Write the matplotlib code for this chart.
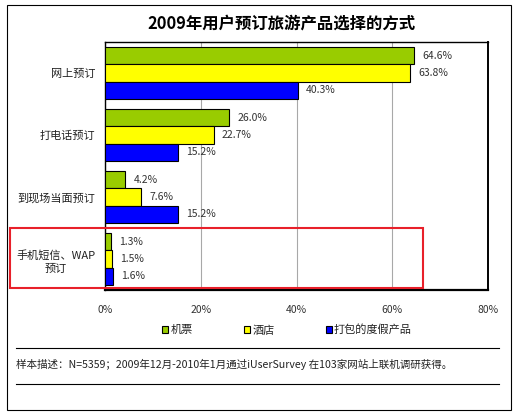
import matplotlib
matplotlib.use('Agg')
from matplotlib import pyplot as plt
from matplotlib.patches import Rectangle
from matplotlib.lines import Line2D
import numpy as np

plt.rcParams['font.family'] = ['Noto Sans CJK SC', 'DejaVu Sans']

categories = ['网上预订', '打电话预订', '到现场当面预订', '手机短信、WAP\n预订']
series_names = ['机票', '酒店', '打包的度假产品']
flights = [64.6, 26.0, 4.2, 1.3]
hotels = [63.8, 22.7, 7.6, 1.5]
packages = [40.3, 15.2, 15.2, 1.6]
xticks = [0, 20, 40, 60, 80]
xtick_labels = ['0%', '20%', '40%', '60%', '80%']
title = '2009年用户预订旅游产品选择的方式'
note = '样本描述：N=5359；2009年12月-2010年1月通过iUserSurvey 在103家网站上联机调研获得。'

colors = ['#99CC00', '#FFFF00', '#0000FF']

W, H = 517, 417
fig = plt.figure(figsize=(W / 100, H / 100), dpi=100)
ax = fig.add_axes([105 / W, 1 - 290 / H, 383 / W, 248 / H])

y = np.arange(len(categories))
h = 0.282
for i, vals in enumerate([flights, hotels, packages]):
	bars = ax.barh(y + (i - 1) * h, vals, height=h, color=colors[i],
				   edgecolor='black', linewidth=0.8, label=series_names[i], zorder=3)
	ax.bar_label(bars, labels=['%.1f%%' % v for v in vals], padding=6,
				 fontsize=7.5, color='#333333')

ax.set_ylim(3.5, -0.5)
ax.set_xlim(0, 80)
ax.set_xticks(xticks)
ax.set_xticklabels(xtick_labels, fontsize=7.5, color='#333333')
ax.set_yticks(y)
ax.set_yticklabels(categories, fontsize=8, color='#222222', ha='right',
				   multialignment='center', linespacing=1.5)
ax.tick_params(axis='y', length=0, pad=7)
ax.tick_params(axis='x', length=0, pad=11)
ax.grid(axis='x', color='#A8A8A8', linewidth=0.8, zorder=0)
for s in ax.spines.values():
	s.set_color('black')
	s.set_linewidth(1.0)
ax.spines['bottom'].set_linewidth(1.6)
ax.spines['right'].set_linewidth(1.4)

fig.text(281 / W, 1 - 24 / H, title, ha='center', va='center',
		 fontsize=11.8, fontweight='bold')

leg = fig.legend(loc='center', bbox_to_anchor=(287 / W, 1 - 330 / H), ncol=3,
				 frameon=False, fontsize=8, handlelength=0.55, handleheight=0.55,
				 handletextpad=0.2, columnspacing=4.6)
for t in leg.get_texts():
	t.set_color('#222222')

fig.add_artist(Line2D([16 / W, 499 / W], [1 - 348 / H, 1 - 348 / H],
					  color='black', linewidth=0.8))
fig.add_artist(Line2D([16 / W, 499 / W], [1 - 384 / H, 1 - 384 / H],
					  color='black', linewidth=0.8))
fig.text(16 / W, 1 - 364 / H, note, ha='left', va='center', fontsize=7.6, color='#222222')

# outer frame
fig.add_artist(Rectangle((7 / W, 1 - 410 / H), 504 / W, 405 / H, fill=False,
						 edgecolor='black', linewidth=0.8))
# red highlight box
fig.add_artist(Rectangle((10 / W, 1 - 288 / H), 413 / W, 60 / H, fill=False,
						 edgecolor='#E8202A', linewidth=1.5, zorder=5))

fig.savefig('out.png', dpi=100)
